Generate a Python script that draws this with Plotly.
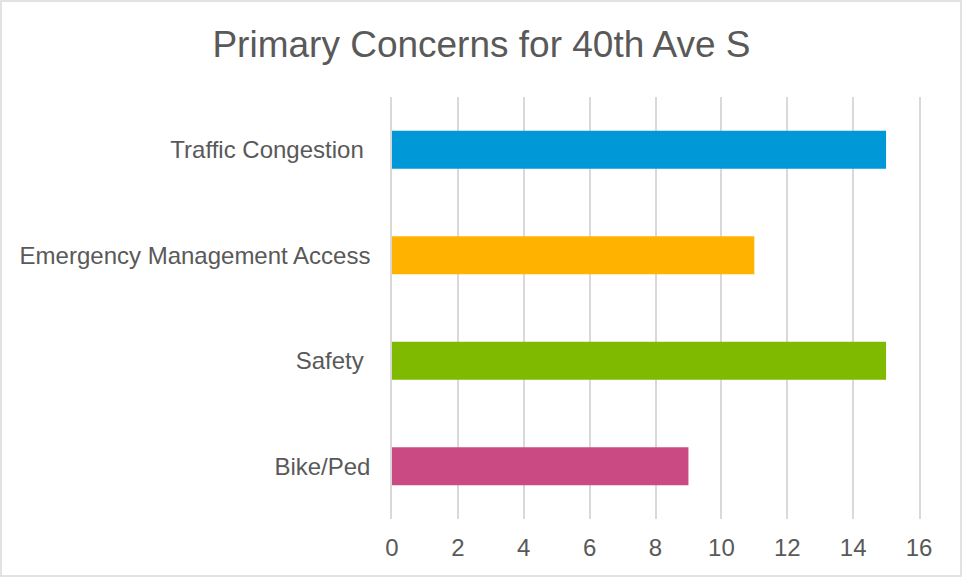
import plotly.graph_objects as go

categories = ["Traffic Congestion ", "Emergency Management Access", "Safety ", "Bike/Ped"]
values = [15, 11, 15, 9]
colors = ["#0098D7", "#FFB300", "#7FBA00", "#CA4A83"]
x_ticks = [0, 2, 4, 6, 8, 10, 12, 14, 16]

W, H = 963, 578
L, R, T, B = 392, 44, 97, 59

fig = go.Figure(go.Bar(
    x=values, y=categories, orientation="h",
    marker=dict(color=colors, line=dict(width=0)),
))

pw = W - L - R
ph = H - T - B
fig.update_layout(
    width=W, height=H,
    margin=dict(l=L, r=R, t=T, b=B),
    paper_bgcolor="white", plot_bgcolor="white",
    bargap=0.642,
    showlegend=False,
    font=dict(family="Liberation Sans, Arial, sans-serif", color="#595959", size=24),
    title=dict(text="Primary Concerns for 40th Ave S", x=0.5, xanchor="center",
               y=1 - 44 / H, yanchor="middle",
               font=dict(size=37, color="#595959")),
    xaxis=dict(range=[0, 16], tickvals=x_ticks, showgrid=True, gridcolor="#D9D9D9",
               gridwidth=1.5, zeroline=False, showline=False, ticks="",
               ticklabelstandoff=12, tickfont=dict(size=24, color="#595959")),
    yaxis=dict(categoryorder="array", categoryarray=categories[::-1],
               showgrid=False, zeroline=False, showline=True, mirror=True,
               linecolor="#D9D9D9", linewidth=1.5, ticks="",
               ticklabelstandoff=15, tickfont=dict(size=24, color="#595959")),
    shapes=[dict(type="rect", xref="paper", yref="paper",
                 x0=(1 - L) / pw, x1=(W - 2 - L) / pw,
                 y0=(H - B - (H - 2)) / ph, y1=(H - B - 1) / ph,
                 line=dict(color="#D9D9D9", width=1.5), fillcolor="rgba(0,0,0,0)",
                 layer="below")],
)

fig.write_html("out.html", config={"displayModeBar": False})

with open("out.html", "r", encoding="utf-8") as f:
    html = f.read()
html = html.replace("<body>", '<body style="margin:0;padding:0;overflow:hidden">', 1)
with open("out.html", "w", encoding="utf-8") as f:
    f.write(html)
